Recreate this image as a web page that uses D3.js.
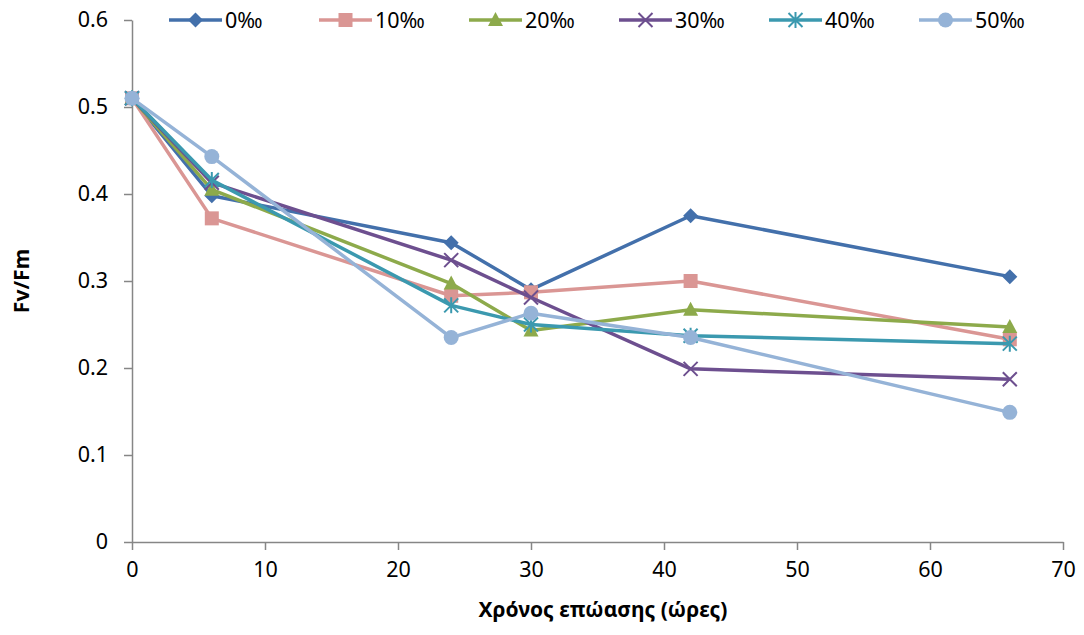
<!DOCTYPE html>
<html><head><meta charset="utf-8">
<script src="https://cdn.jsdelivr.net/npm/d3@7"></script>
<style>body{margin:0;background:#fff;} text{font-family:"Noto Sans","Open Sans",sans-serif;}</style>
</head><body><svg id="c" width="1084" height="635"></svg>
<script>
const hours = [0, 6, 24, 30, 42, 66];
const seriesNames = ["0‰", "10‰", "20‰", "30‰", "40‰", "50‰"];
const s0 = [0.510, 0.398, 0.344, 0.290, 0.375, 0.305];
const s10 = [0.510, 0.372, 0.283, 0.287, 0.300, 0.233];
const s20 = [0.510, 0.405, 0.297, 0.243, 0.267, 0.247];
const s30 = [0.510, 0.413, 0.324, 0.281, 0.199, 0.187];
const s40 = [0.510, 0.416, 0.272, 0.250, 0.237, 0.228];
const s50 = [0.510, 0.443, 0.235, 0.263, 0.235, 0.149];
const xTicks = [0, 10, 20, 30, 40, 50, 60, 70];
const yTicks = [0, 0.1, 0.2, 0.3, 0.4, 0.5, 0.6];
const colors = ["#4370AB", "#DA9694", "#8DAA4B", "#6D4F8F", "#3B99AF", "#95B3D7"];
const markers = ["diamond", "square", "triangle", "cross", "star", "circle"];
const allSeries = [s0, s10, s20, s30, s40, s50];

const svg = d3.select("#c");
const x = d3.scaleLinear().domain([0, 70]).range([132, 1063]);
const y = d3.scaleLinear().domain([0, 0.6]).range([542, 20]);
const axisColor = "#868686";

const xa = svg.append("g").attr("transform", "translate(0,542)")
  .call(d3.axisBottom(x).tickValues(xTicks).tickSize(8).tickSizeOuter(0).tickFormat(d3.format("d")));
const ya = svg.append("g").attr("transform", "translate(132,0)")
  .call(d3.axisLeft(y).tickValues(yTicks).tickSize(8).tickSizeOuter(0).tickFormat(d => d === 0 ? "0" : d3.format(".1f")(d)));
[xa, ya].forEach(a => {
  a.selectAll("path,line").attr("stroke", axisColor).attr("stroke-width", 1.5);
  a.selectAll("text").attr("font-size", 21.5).attr("fill", "#000");
});
xa.selectAll("text").attr("dy", "1.1em");
ya.selectAll("text").attr("dx", "-0.6em");

function drawMarker(g, type, cx, cy, color) {
  if (type === "diamond") {
    g.append("path").attr("d", `M${cx},${cy-7.5}L${cx+7.5},${cy}L${cx},${cy+7.5}L${cx-7.5},${cy}Z`).attr("fill", color);
  } else if (type === "square") {
    g.append("rect").attr("x", cx-7).attr("y", cy-7).attr("width", 14).attr("height", 14).attr("fill", color);
  } else if (type === "triangle") {
    g.append("path").attr("d", `M${cx},${cy-8}L${cx+7.5},${cy+6}L${cx-7.5},${cy+6}Z`).attr("fill", color);
  } else if (type === "cross") {
    g.append("path").attr("d", `M${cx-7},${cy-7}L${cx+7},${cy+7}M${cx-7},${cy+7}L${cx+7},${cy-7}`).attr("stroke", color).attr("stroke-width", 2);
  } else if (type === "star") {
    g.append("path").attr("d", `M${cx-7},${cy-7}L${cx+7},${cy+7}M${cx-7},${cy+7}L${cx+7},${cy-7}M${cx},${cy-8}L${cx},${cy+8}`).attr("stroke", color).attr("stroke-width", 2);
  } else if (type === "circle") {
    g.append("circle").attr("cx", cx).attr("cy", cy).attr("r", 7.5).attr("fill", color);
  }
}

const line = d3.line().x((d, i) => x(hours[i])).y(d => y(d));
allSeries.forEach((vals, si) => {
  const g = svg.append("g");
  g.append("path").datum(vals).attr("d", line).attr("fill", "none")
    .attr("stroke", colors[si]).attr("stroke-width", 3.5).attr("stroke-linejoin", "round");
  vals.forEach((v, i) => drawMarker(g, markers[si], x(hours[i]), y(v), colors[si]));
});

// legend
const lg = svg.append("g");
seriesNames.forEach((name, i) => {
  const lx = 169 + i * 150, ly = 20;
  lg.append("line").attr("x1", lx).attr("x2", lx + 53).attr("y1", ly).attr("y2", ly)
    .attr("stroke", colors[i]).attr("stroke-width", 3.5);
  drawMarker(lg, markers[i], lx + 26.5, ly, colors[i]);
  lg.append("text").attr("x", lx + 56).attr("y", ly).attr("dy", "0.35em")
    .attr("font-size", 21.5).text(name);
});

svg.append("text").attr("x", 603).attr("y", 617).attr("text-anchor", "middle")
  .attr("font-size", 21).attr("font-weight", "bold").text("Χρόνος επώασης (ώρες)");
svg.append("text").attr("transform", "translate(29,281) rotate(-90)").attr("text-anchor", "middle")
  .attr("font-size", 21).attr("font-weight", "bold").text("Fv/Fm");
</script></body></html>
